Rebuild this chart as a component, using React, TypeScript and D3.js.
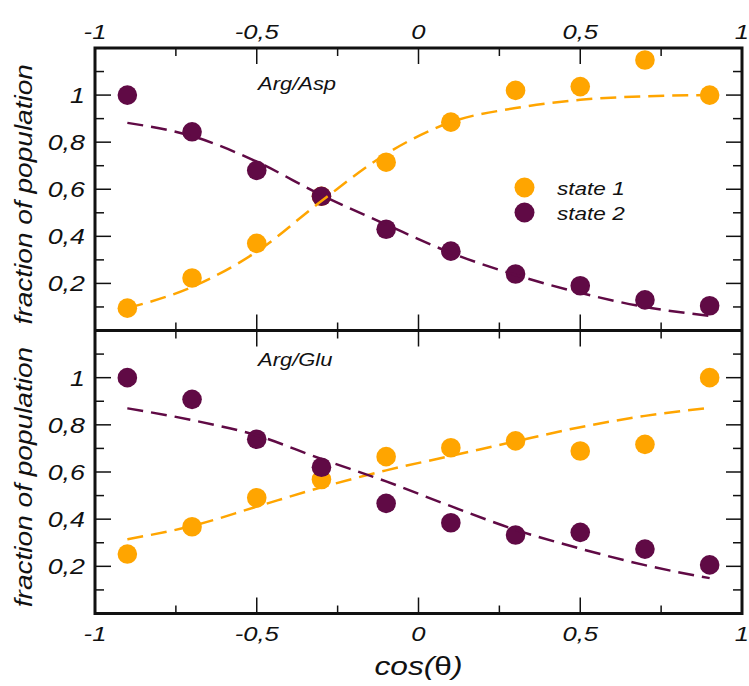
import React from "react";
import * as d3 from "d3";

// ---- data ----
const xValues = [-0.9, -0.7, -0.5, -0.3, -0.1, 0.1, 0.3, 0.5, 0.7, 0.9];

const aspState1 = [0.095, 0.223, 0.37, 0.57, 0.715, 0.885, 1.02, 1.036, 1.149, 1.0];
const aspState2 = [1.0, 0.844, 0.68, 0.57, 0.43, 0.337, 0.24, 0.19, 0.13, 0.105];
const aspFit1 = [0.095, 0.185, 0.335, 0.55, 0.75, 0.885, 0.945, 0.98, 0.995, 1.0];
const aspFit2 = [0.882, 0.826, 0.717, 0.575, 0.45, 0.33, 0.236, 0.16, 0.1, 0.062];

const gluState1 = [0.252, 0.368, 0.491, 0.568, 0.665, 0.703, 0.732, 0.689, 0.717, 1.0];
const gluState2 = [1.0, 0.908, 0.739, 0.62, 0.467, 0.385, 0.333, 0.344, 0.273, 0.206];
const gluFit1 = [0.315, 0.371, 0.453, 0.535, 0.607, 0.668, 0.73, 0.79, 0.838, 0.872];
const gluFit2 = [0.87, 0.82, 0.755, 0.655, 0.56, 0.455, 0.355, 0.275, 0.205, 0.15];

const xMajorTicks = [-1, -0.5, 0, 0.5, 1];
const xTickLabels = ["-1", "-0,5", "0", "0,5", "1"];
const xMinorTicks = [-0.75, -0.25, 0.25, 0.75];
const yMajorTicks = [0.2, 0.4, 0.6, 0.8, 1.0];
const yTickLabels = ["0,2", "0,4", "0,6", "0,8", "1"];
const yMinorTicks = [0.1, 0.3, 0.5, 0.7, 0.9, 1.1];

const panelTitles = ["Arg/Asp", "Arg/Glu"];
const seriesNames = ["state 1", "state 2"];
const yTitle = "fraction of population";

const ORANGE = "#FFA500";
const PURPLE = "#600A45";
const FONT = "'Liberation Sans', Arial, sans-serif";
const SX = 1.22;

const L = 95, R = 742, T = 48, MID = 330.5, B = 613.5;

const x = d3.scaleLinear().domain([-1, 1]).range([L, R]);

function STxt({ x: tx, y: ty, size, anchor = "start", rotate = 0, children }: any) {
  return (
    <text
      transform={`translate(${tx},${ty}) rotate(${rotate}) scale(${SX},1)`}
      fontFamily={FONT}
      fontStyle="italic"
      fontSize={size}
      textAnchor={anchor}
      fill="#111"
    >
      {children}
    </text>
  );
}

function Panel({ top, bottom, s1, s2, f1, f2, title, showLegend }: any) {
  const y = d3.scaleLinear().domain([0, 1.2]).range([bottom, top]);
  const line = d3
    .line<number>()
    .x((_, i) => x(xValues[i]))
    .y((d) => y(d))
    .curve(d3.curveMonotoneX);
  const tk = { stroke: "#111", strokeWidth: 1.5 };
  return (
    <g>
      {yMajorTicks.map((v) => (
        <g key={"ym" + v}>
          <line x1={L} x2={L + 16} y1={y(v)} y2={y(v)} {...tk} />
          <line x1={R} x2={R - 16} y1={y(v)} y2={y(v)} {...tk} />
        </g>
      ))}
      {yMinorTicks.map((v) => (
        <g key={"yn" + v}>
          <line x1={L} x2={L + 9} y1={y(v)} y2={y(v)} {...tk} />
          <line x1={R} x2={R - 9} y1={y(v)} y2={y(v)} {...tk} />
        </g>
      ))}
      {yMajorTicks.map((v, i) => (
        <STxt key={"yl" + v} x={85} y={y(v) + 8} size={22} anchor="end">
          {yTickLabels[i]}
        </STxt>
      ))}
      {xMajorTicks.slice(1, -1).map((v) => (
        <g key={"xm" + v}>
          <line x1={x(v)} x2={x(v)} y1={top} y2={top + 16} {...tk} />
          <line x1={x(v)} x2={x(v)} y1={bottom} y2={bottom - 16} {...tk} />
        </g>
      ))}
      {xMinorTicks.map((v) => (
        <g key={"xn" + v}>
          <line x1={x(v)} x2={x(v)} y1={top} y2={top + 8} {...tk} />
          <line x1={x(v)} x2={x(v)} y1={bottom} y2={bottom - 8} {...tk} />
        </g>
      ))}
      {s1.map((v: number, i: number) => (
        <circle key={"a" + i} cx={x(xValues[i])} cy={y(v)} r={9.8} fill={ORANGE} />
      ))}
      {s2.map((v: number, i: number) => (
        <circle key={"b" + i} cx={x(xValues[i])} cy={y(v)} r={9.8} fill={PURPLE} />
      ))}
      <path d={line(f1) || ""} fill="none" stroke={ORANGE} strokeWidth={2.5} strokeDasharray="16,8" />
      <path d={line(f2) || ""} fill="none" stroke={PURPLE} strokeWidth={2.5} strokeDasharray="16,8" />
      <STxt x={258} y={top + (title === panelTitles[0] ? 42 : 35)} size={18}>
        {title}
      </STxt>
      <STxt x={32} y={(top + bottom) / 2 + 5} size={23} anchor="middle" rotate={-90}>
        {yTitle}
      </STxt>
      {showLegend && (
        <g>
          {seriesNames.map((n, i) => (
            <g key={n}>
              <circle cx={524.5} cy={187.5 + i * 25} r={10} fill={i === 0 ? ORANGE : PURPLE} />
              <STxt x={557} y={194.5 + i * 25} size={18.5}>
                {n}
              </STxt>
            </g>
          ))}
        </g>
      )}
    </g>
  );
}

export default function App() {
  return (
    <svg
      width={749}
      height={686}
      style={{ position: "absolute", left: 0, top: 0, background: "#fff" }}
    >
      <rect x={0} y={0} width={749} height={686} fill="#fff" />
      <Panel top={T} bottom={MID} s1={aspState1} s2={aspState2} f1={aspFit1} f2={aspFit2} title={panelTitles[0]} showLegend />
      <Panel top={MID} bottom={B} s1={gluState1} s2={gluState2} f1={gluFit1} f2={gluFit2} title={panelTitles[1]} />
      <rect x={L} y={T} width={R - L} height={B - T} fill="none" stroke="#111" strokeWidth={3} />
      <line x1={L} x2={R} y1={MID} y2={MID} stroke="#111" strokeWidth={3} />
      {xMajorTicks.map((v, i) => (
        <g key={"xl" + v}>
          <STxt x={x(v)} y={39} size={21} anchor="middle">
            {xTickLabels[i]}
          </STxt>
          <STxt x={x(v)} y={641} size={21} anchor="middle">
            {xTickLabels[i]}
          </STxt>
        </g>
      ))}
      <STxt x={x(0)} y={675} size={26} anchor="middle">
        cos(<tspan fontStyle="normal">θ</tspan>)
      </STxt>
    </svg>
  );
}
